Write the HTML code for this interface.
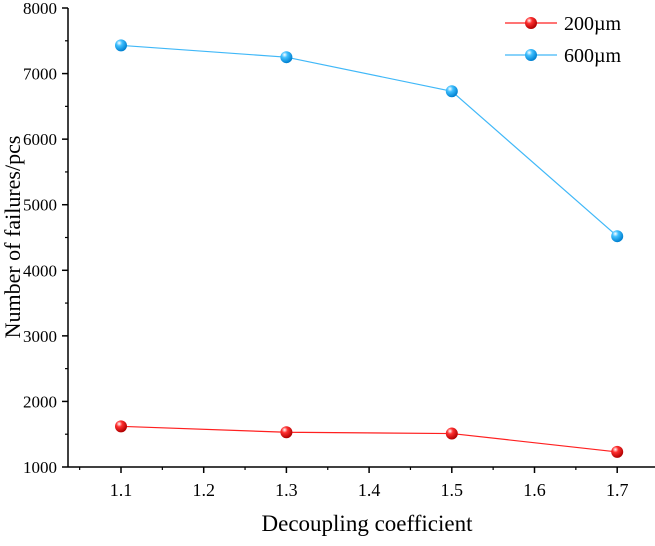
<!DOCTYPE html>
<html><head><meta charset="utf-8"><style>
html,body{margin:0;padding:0;background:#fff;}
svg text{font-family:"Liberation Serif",serif;fill:#000;}
</style></head><body>
<svg id="chart" width="655" height="541">
<defs>
<radialGradient id="gr" cx="0.35" cy="0.3" r="0.7"><stop offset="0" stop-color="#fff"/><stop offset="0.35" stop-color="#ff3030"/><stop offset="1" stop-color="#b00000"/></radialGradient>
<radialGradient id="gb" cx="0.35" cy="0.3" r="0.7"><stop offset="0" stop-color="#fff"/><stop offset="0.35" stop-color="#40c0ff"/><stop offset="1" stop-color="#0080d0"/></radialGradient>
</defs>
</svg>
<script>
const categories=[1.1,1.3,1.5,1.7];
const series200=[1620,1530,1510,1230];
const series600=[7430,7250,6730,4520];
const yTicks=[1000,2000,3000,4000,5000,6000,7000,8000];
const xTicks=[1.1,1.2,1.3,1.4,1.5,1.6,1.7];
const svg=document.getElementById('chart');
const NS='http://www.w3.org/2000/svg';
function X(v){return 121+(v-1.1)*827;}
function Y(v){return 467-(v-1000)*0.06557;}
function mk(t,a,p){const e=document.createElementNS(NS,t);for(const k in a)e.setAttribute(k,a[k]);(p||svg).appendChild(e);return e;}
const ax=mk('g',{});


mk('line',{x1:68,y1:8,x2:68,y2:467,stroke:'#000','stroke-width':1.5},ax);
mk('line',{x1:68,y1:467,x2:655,y2:467,stroke:'#000','stroke-width':1.5},ax);
yTicks.forEach(v=>{
  mk('line',{x1:62,y1:Y(v),x2:68,y2:Y(v),stroke:'#000','stroke-width':1.5},ax);
  if(v<8000)mk('line',{x1:65,y1:Y(v+500),x2:68,y2:Y(v+500),stroke:'#000','stroke-width':1.2},ax);
  const t=mk('text',{x:57,y:Y(v)+6,'text-anchor':'end','font-size':17},ax);t.textContent=v;
  
  
});
xTicks.forEach(v=>{
  mk('line',{x1:X(v),y1:467,x2:X(v),y2:473,stroke:'#000','stroke-width':1.5},ax);
  mk('line',{x1:X(v-0.05),y1:467,x2:X(v-0.05),y2:470,stroke:'#000','stroke-width':1.2},ax);
  const t=mk('text',{x:X(v),y:496,'text-anchor':'middle','font-size':18},ax);t.textContent=v.toFixed(1);
  
  
});
mk('line',{x1:X(1.75),y1:467,x2:X(1.75),y2:470,stroke:'#000','stroke-width':1.2},ax);
const xt=mk('text',{x:367,y:531,'text-anchor':'middle','font-size':23});xt.textContent='Decoupling coefficient';


const yt=mk('text',{x:0,y:0,'text-anchor':'middle','font-size':22,transform:'translate(20,237) rotate(-90)'});yt.textContent='Number of failures/pcs';


function draw(vals,color,grad,name){
  const g=mk('g',{});
  
  
  mk('polyline',{points:vals.map((v,i)=>X(categories[i])+','+Y(v)).join(' '),fill:'none',stroke:color,'stroke-width':1.2},g);
  vals.forEach((v,i)=>{const c=mk('circle',{cx:X(categories[i]),cy:Y(v),r:6,fill:'url(#'+grad+')'},g);
    
    });
}
draw(series200,'#ff2020','gr','series-200um');
draw(series600,'#40b8f8','gb','series-600um');
[['200µm','#ff2020','gr',23],['600µm','#40b8f8','gb',55]].forEach(l=>{
  const g=mk('g',{});
  
  
  mk('line',{x1:505,y1:l[3],x2:557,y2:l[3],stroke:l[1],'stroke-width':1.2},g);
  mk('circle',{cx:531,cy:l[3],r:6,fill:'url(#'+l[2]+')'},g);
  const t=mk('text',{x:564,y:l[3]+7,'font-size':20},g);t.textContent=l[0];
});
</script>
</body></html>
